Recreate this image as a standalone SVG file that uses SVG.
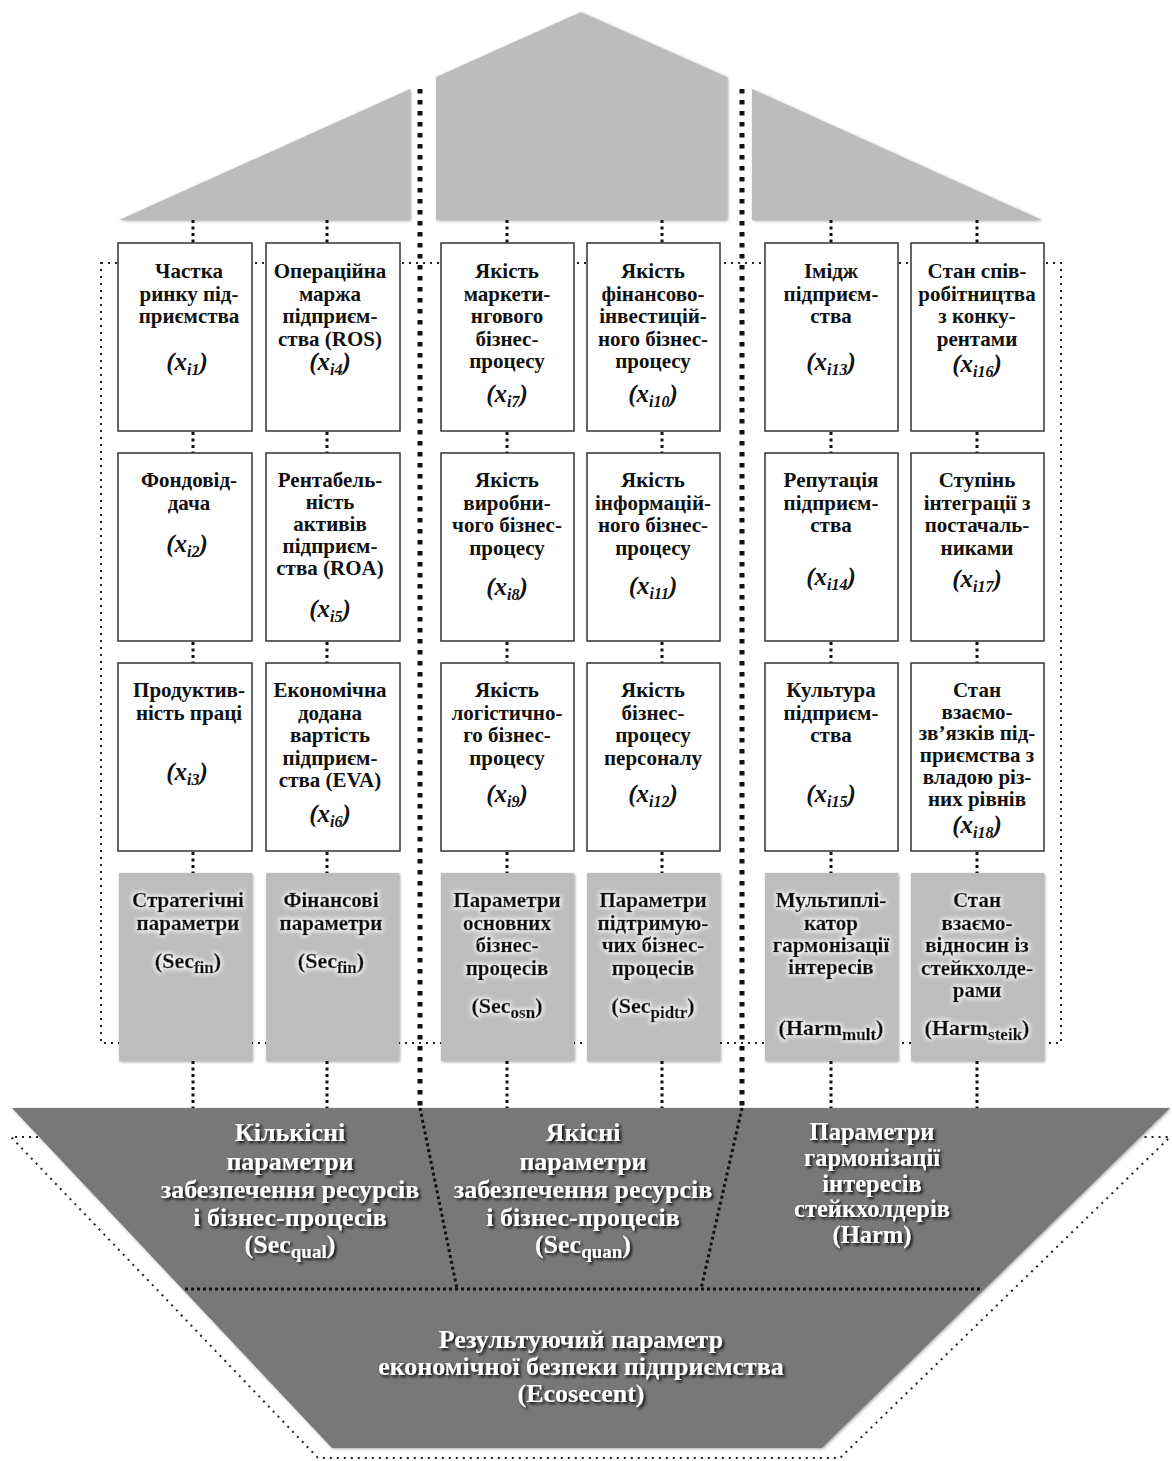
<svg xmlns="http://www.w3.org/2000/svg" width="1172" height="1461" viewBox="0 0 1172 1461">
<defs>
<filter id="sh" x="-5%" y="-5%" width="110%" height="110%"><feDropShadow dx="1" dy="1" stdDeviation="1.5" flood-color="#000" flood-opacity="0.35"/></filter>
<filter id="glow" x="-20%" y="-30%" width="140%" height="160%">
<feMorphology in="SourceAlpha" operator="dilate" radius="1" result="d"/>
<feGaussianBlur in="d" stdDeviation="2.2" result="b"/>
<feFlood flood-color="#ffffff"/>
<feComposite in2="b" operator="in" result="g"/>
<feMerge><feMergeNode in="g"/><feMergeNode in="SourceGraphic"/></feMerge>
</filter>
<filter id="dsh" x="-10%" y="-30%" width="120%" height="160%"><feDropShadow dx="2" dy="2" stdDeviation="1.5" flood-color="#000" flood-opacity="0.9"/></filter>
<style>
.t{font-family:"Liberation Serif","Times New Roman",serif;font-weight:bold;font-size:21px;text-anchor:middle;fill:#111}
.lbl{font-style:italic;font-size:25px}
.sub{font-size:16px}
.gt text{stroke:#111;stroke-width:0.5}
.gt{filter:url(#glow)}
.gs{font-size:22px}
.gsub{font-size:17px}
.w{fill:#fff;font-size:26px;filter:url(#dsh)}
.wr{font-size:24.5px}
.box{fill:#fff;stroke:#333;stroke-width:1.5}
.gbox{fill:#bdbdbd;filter:url(#sh)}
.roof{fill:#bcbcbc;filter:url(#sh)}
.c{stroke:#111;stroke-width:3;stroke-dasharray:3 3.5;fill:none}
.thick{stroke:#111;stroke-width:5;stroke-dasharray:4.5 6.5;fill:none}
.thin{stroke:#222;stroke-width:2;stroke-dasharray:2 5;fill:none}
.inner{stroke:#111;stroke-width:3;stroke-dasharray:3 3;fill:none}
</style>
</defs>
<rect width="1172" height="1461" fill="#fff"/>

<g id="roof-left"><polygon class="roof" points="119,220 410,89 410,220"/></g>
<g id="roof-center"><polygon class="roof" points="436,220 436,77 581,12 727,77 727,220"/></g>
<g id="roof-right"><polygon class="roof" points="752,89 1042,220 752,220"/></g>

<g id="base">
<polygon points="12,1108 1170,1108 822,1448 332,1448" fill="#787878" filter="url(#sh)"/>
<text class="t w" x="290" y="1141">Кількісні</text>
<text class="t w" x="290" y="1170">параметри</text>
<text class="t w" x="290" y="1198">забезпечення ресурсів</text>
<text class="t w" x="290" y="1226">і бізнес-процесів</text>
<text class="t w" x="290" y="1253">(Sec<tspan font-size="19" dy="5">qual</tspan><tspan dy="-5">)</tspan></text>
<text class="t w" x="583" y="1141">Якісні</text>
<text class="t w" x="583" y="1170">параметри</text>
<text class="t w" x="583" y="1198">забезпечення ресурсів</text>
<text class="t w" x="583" y="1226">і бізнес-процесів</text>
<text class="t w" x="583" y="1253">(Sec<tspan font-size="19" dy="5">quan</tspan><tspan dy="-5">)</tspan></text>
<text class="t w wr" x="872" y="1140">Параметри</text>
<text class="t w wr" x="872" y="1166">гармонізації</text>
<text class="t w wr" x="872" y="1192">інтересів</text>
<text class="t w wr" x="872" y="1217">стейкхолдерів</text>
<text class="t w wr" x="872" y="1243">(Harm)</text>
<text class="t w" x="581" y="1348">Результуючий параметр</text>
<text class="t w" x="581" y="1375">економічної безпеки підприємства</text>
<text class="t w" x="581" y="1402">(Ecosecent)</text>
</g>

<g id="connectors">
<rect class="thin" x="101" y="263" width="960" height="780"/>
<path class="thin" d="M38,1137 L11,1137 L318,1458 L840,1458 L1170,1137 L1142,1137"/>
<line class="thick" x1="420" y1="89" x2="420" y2="1108"/>
<line class="thick" x1="742" y1="89" x2="742" y2="1108"/>
<line class="inner" x1="420" y1="1108" x2="457" y2="1289"/>
<line class="inner" x1="742" y1="1108" x2="701" y2="1289"/>
<line class="inner" x1="185" y1="1289" x2="982" y2="1289"/>
<path class="c" d="M193,220V243M327,220V243M507,220V243M662,220V243M831,220V243M977,220V243
M193,432V453M327,432V453M507,432V453M662,432V453M831,432V453M977,432V453
M193,642V663M327,642V663M507,642V663M662,642V663M831,642V663M977,642V663
M193,852V873M327,852V873M507,852V873M662,852V873M831,852V873M977,852V873
M193,1061V1108M327,1061V1108M507,1061V1108M662,1061V1108M831,1061V1108M977,1061V1108"/>
</g>

<g id="x1"><rect class="box" x="118" y="243" width="134" height="188"/>
<text class="t" x="189" y="278">Частка</text><text class="t" x="189" y="300.5">ринку під-</text><text class="t" x="189" y="323">приємства</text>
<text class="t lbl" x="187" y="370">(x<tspan class="sub" dy="5">i1</tspan><tspan dy="-5">)</tspan></text></g>
<g id="x4"><rect class="box" x="266" y="243" width="134" height="188"/>
<text class="t" x="330" y="278">Операційна</text><text class="t" x="330" y="300.5">маржа</text><text class="t" x="330" y="323">підприєм-</text><text class="t" x="330" y="345.5">ства (ROS)</text>
<text class="t lbl" x="330" y="370">(x<tspan class="sub" dy="5">i4</tspan><tspan dy="-5">)</tspan></text></g>
<g id="x7"><rect class="box" x="441" y="243" width="133" height="188"/>
<text class="t" x="507" y="278">Якість</text><text class="t" x="507" y="300.5">маркети-</text><text class="t" x="507" y="323">нгового</text><text class="t" x="507" y="345.5">бізнес-</text><text class="t" x="507" y="368">процесу</text>
<text class="t lbl" x="507" y="402">(x<tspan class="sub" dy="5">i7</tspan><tspan dy="-5">)</tspan></text></g>
<g id="x10"><rect class="box" x="587" y="243" width="133" height="188"/>
<text class="t" x="653" y="278">Якість</text><text class="t" x="653" y="300.5">фінансово-</text><text class="t" x="653" y="323">інвестицій-</text><text class="t" x="653" y="345.5">ного бізнес-</text><text class="t" x="653" y="368">процесу</text>
<text class="t lbl" x="653" y="402">(x<tspan class="sub" dy="5">i10</tspan><tspan dy="-5">)</tspan></text></g>
<g id="x13"><rect class="box" x="765" y="243" width="133" height="188"/>
<text class="t" x="831" y="278">Імідж</text><text class="t" x="831" y="300.5">підприєм-</text><text class="t" x="831" y="323">ства</text>
<text class="t lbl" x="831" y="370">(x<tspan class="sub" dy="5">i13</tspan><tspan dy="-5">)</tspan></text></g>
<g id="x16"><rect class="box" x="911" y="243" width="133" height="188"/>
<text class="t" x="977" y="278">Стан спів-</text><text class="t" x="977" y="300.5">робітництва</text><text class="t" x="977" y="323">з конку-</text><text class="t" x="977" y="345.5">рентами</text>
<text class="t lbl" x="977" y="372">(x<tspan class="sub" dy="5">i16</tspan><tspan dy="-5">)</tspan></text></g>

<g id="x2"><rect class="box" x="118" y="453" width="134" height="188"/>
<text class="t" x="189" y="487">Фондовід-</text><text class="t" x="189" y="509.5">дача</text>
<text class="t lbl" x="187" y="552">(x<tspan class="sub" dy="5">i2</tspan><tspan dy="-5">)</tspan></text></g>
<g id="x5"><rect class="box" x="266" y="453" width="134" height="188"/>
<text class="t" x="330" y="487">Рентабель-</text><text class="t" x="330" y="509">ність</text><text class="t" x="330" y="531">активів</text><text class="t" x="330" y="553">підприєм-</text><text class="t" x="330" y="575">ства (ROA)</text>
<text class="t lbl" x="330" y="617">(x<tspan class="sub" dy="5">i5</tspan><tspan dy="-5">)</tspan></text></g>
<g id="x8"><rect class="box" x="441" y="453" width="133" height="188"/>
<text class="t" x="507" y="487">Якість</text><text class="t" x="507" y="509.5">виробни-</text><text class="t" x="507" y="532">чого бізнес-</text><text class="t" x="507" y="554.5">процесу</text>
<text class="t lbl" x="507" y="595">(x<tspan class="sub" dy="5">i8</tspan><tspan dy="-5">)</tspan></text></g>
<g id="x11"><rect class="box" x="587" y="453" width="133" height="188"/>
<text class="t" x="653" y="487">Якість</text><text class="t" x="653" y="509.5">інформацій-</text><text class="t" x="653" y="532">ного бізнес-</text><text class="t" x="653" y="554.5">процесу</text>
<text class="t lbl" x="653" y="594">(x<tspan class="sub" dy="5">i11</tspan><tspan dy="-5">)</tspan></text></g>
<g id="x14"><rect class="box" x="765" y="453" width="133" height="188"/>
<text class="t" x="831" y="487">Репутація</text><text class="t" x="831" y="509.5">підприєм-</text><text class="t" x="831" y="532">ства</text>
<text class="t lbl" x="831" y="585">(x<tspan class="sub" dy="5">i14</tspan><tspan dy="-5">)</tspan></text></g>
<g id="x17"><rect class="box" x="911" y="453" width="133" height="188"/>
<text class="t" x="977" y="487">Ступінь</text><text class="t" x="977" y="509.5">інтеграції з</text><text class="t" x="977" y="532">постачаль-</text><text class="t" x="977" y="554.5">никами</text>
<text class="t lbl" x="977" y="587">(x<tspan class="sub" dy="5">i17</tspan><tspan dy="-5">)</tspan></text></g>

<g id="x3"><rect class="box" x="118" y="663" width="134" height="188"/>
<text class="t" x="189" y="697">Продуктив-</text><text class="t" x="189" y="719.5">ність праці</text>
<text class="t lbl" x="187" y="780">(x<tspan class="sub" dy="5">i3</tspan><tspan dy="-5">)</tspan></text></g>
<g id="x6"><rect class="box" x="266" y="663" width="134" height="188"/>
<text class="t" x="330" y="697">Економічна</text><text class="t" x="330" y="719.5">додана</text><text class="t" x="330" y="742">вартість</text><text class="t" x="330" y="764.5">підприєм-</text><text class="t" x="330" y="787">ства (EVA)</text>
<text class="t lbl" x="330" y="822">(x<tspan class="sub" dy="5">i6</tspan><tspan dy="-5">)</tspan></text></g>
<g id="x9"><rect class="box" x="441" y="663" width="133" height="188"/>
<text class="t" x="507" y="697">Якість</text><text class="t" x="507" y="719.5">логістично-</text><text class="t" x="507" y="742">го бізнес-</text><text class="t" x="507" y="764.5">процесу</text>
<text class="t lbl" x="507" y="802">(x<tspan class="sub" dy="5">i9</tspan><tspan dy="-5">)</tspan></text></g>
<g id="x12"><rect class="box" x="587" y="663" width="133" height="188"/>
<text class="t" x="653" y="697">Якість</text><text class="t" x="653" y="719.5">бізнес-</text><text class="t" x="653" y="742">процесу</text><text class="t" x="653" y="764.5">персоналу</text>
<text class="t lbl" x="653" y="802">(x<tspan class="sub" dy="5">i12</tspan><tspan dy="-5">)</tspan></text></g>
<g id="x15"><rect class="box" x="765" y="663" width="133" height="188"/>
<text class="t" x="831" y="697">Культура</text><text class="t" x="831" y="719.5">підприєм-</text><text class="t" x="831" y="742">ства</text>
<text class="t lbl" x="831" y="802">(x<tspan class="sub" dy="5">i15</tspan><tspan dy="-5">)</tspan></text></g>
<g id="x18"><rect class="box" x="911" y="663" width="133" height="188"/>
<text class="t" x="977" y="697">Стан</text><text class="t" x="977" y="718.7">взаємо-</text><text class="t" x="977" y="740.4">зв’язків під-</text><text class="t" x="977" y="762.1">приємства з</text><text class="t" x="977" y="783.8">владою різ-</text><text class="t" x="977" y="805.5">них рівнів</text>
<text class="t lbl" x="977" y="833">(x<tspan class="sub" dy="5">i18</tspan><tspan dy="-5">)</tspan></text></g>

<g id="sec-strat"><rect class="gbox" x="119" y="873" width="133" height="188"/>
<g class="gt"><text class="t" x="188" y="907">Стратегічні</text><text class="t" x="188" y="930">параметри</text>
<text class="t gs" x="188" y="968">(Sec<tspan class="gsub" dy="5">fin</tspan><tspan dy="-5">)</tspan></text></g></g>
<g id="sec-fin"><rect class="gbox" x="266" y="873" width="133" height="188"/>
<g class="gt"><text class="t" x="331" y="907">Фінансові</text><text class="t" x="331" y="930">параметри</text>
<text class="t gs" x="331" y="968">(Sec<tspan class="gsub" dy="5">fin</tspan><tspan dy="-5">)</tspan></text></g></g>
<g id="sec-osn"><rect class="gbox" x="441" y="873" width="133" height="188"/>
<g class="gt"><text class="t" x="507" y="907">Параметри</text><text class="t" x="507" y="930">основних</text><text class="t" x="507" y="952">бізнес-</text><text class="t" x="507" y="975">процесів</text>
<text class="t gs" x="507" y="1013">(Sec<tspan class="gsub" dy="5">osn</tspan><tspan dy="-5">)</tspan></text></g></g>
<g id="sec-pidtr"><rect class="gbox" x="587" y="873" width="133" height="188"/>
<g class="gt"><text class="t" x="653" y="907">Параметри</text><text class="t" x="653" y="930">підтримую-</text><text class="t" x="653" y="952">чих бізнес-</text><text class="t" x="653" y="975">процесів</text>
<text class="t gs" x="653" y="1013">(Sec<tspan class="gsub" dy="5">pidtr</tspan><tspan dy="-5">)</tspan></text></g></g>
<g id="harm-mult"><rect class="gbox" x="765" y="873" width="133" height="188"/>
<g class="gt"><text class="t" x="831" y="907">Мультиплі-</text><text class="t" x="831" y="930">катор</text><text class="t" x="831" y="952">гармонізації</text><text class="t" x="831" y="974">інтересів</text>
<text class="t gs" x="831" y="1035">(Harm<tspan class="gsub" dy="5">mult</tspan><tspan dy="-5">)</tspan></text></g></g>
<g id="harm-steik"><rect class="gbox" x="911" y="873" width="133" height="188"/>
<g class="gt"><text class="t" x="977" y="907">Стан</text><text class="t" x="977" y="930">взаємо-</text><text class="t" x="977" y="952">відносин із</text><text class="t" x="977" y="975">стейкхолде-</text><text class="t" x="977" y="997">рами</text>
<text class="t gs" x="977" y="1035">(Harm<tspan class="gsub" dy="5">steik</tspan><tspan dy="-5">)</tspan></text></g></g>
</svg>
